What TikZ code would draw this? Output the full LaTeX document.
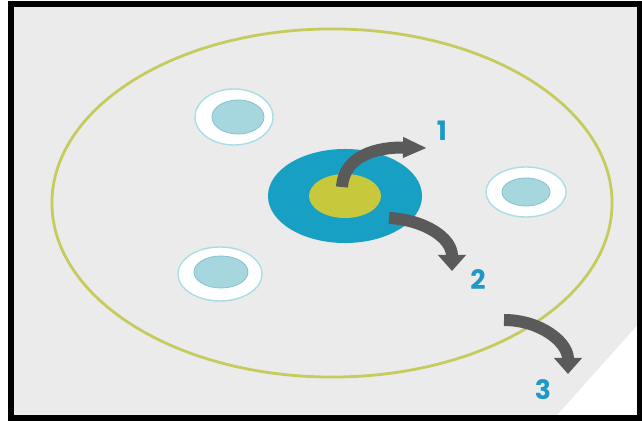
\documentclass[tikz,border=0pt]{standalone}
\usepackage{fontspec}
\usepackage{tikz}
\usetikzlibrary{shapes.geometric,arrows.meta}
\newfontfamily\numfont{Poppins}
\definecolor{paper}{HTML}{EBEBEB}
\definecolor{olive}{HTML}{C6CB5E}
\definecolor{teal}{HTML}{17A0C3}
\definecolor{core}{HTML}{C8C83C}
\definecolor{cellin}{HTML}{A6D6DE}
\definecolor{cellline}{HTML}{86C3CE}
\definecolor{cellring}{HTML}{A8DEE6}
\definecolor{arrowgray}{HTML}{5A5A5A}
\definecolor{numblue}{HTML}{1E98C6}

\begin{document}
\begin{tikzpicture}[x=0.025cm,y=0.025cm,
  disc/.style = {ellipse, inner sep=0pt, outer sep=0pt},
  ring/.style = {disc, fill=white, draw=cellring, line width=1pt},
  cell/.style = {disc, fill=cellin, draw=cellline, line width=0.6pt},
  flow/.style = {arrowgray, line width=0.3cm, -{Triangle[width=0.68cm,length=0.4cm]}},
  num/.style  = {text=numblue, font=\numfont\bfseries\fontsize{19}{19}\selectfont, inner sep=0pt}]
\useasboundingbox (0,0) rectangle (642,420);
\fill[white] (0,0) rectangle (642,420);
\fill[paper] (11,2.5) rectangle (639.5,415.5);
\fill[white] (555,2.5) -- (639.5,97) -- (639.5,2.5) -- cycle;
\draw[line width=0.15cm] (11,2.5) rectangle (639.5,415.5);
% big ellipse and the nucleus
\node[disc, draw=olive, line width=2pt, minimum width=14cm, minimum height=8.7cm](dish) at (332,217) {};
\node[disc, fill=teal, minimum width=3.85cm, minimum height=2.35cm](outer) at (345,224) {};
\node[disc, fill=core, minimum width=1.8cm, minimum height=1.1cm](inner) at (345,224) {};
% small cells
\node[ring, minimum width=1.95cm, minimum height=1.4cm](r1) at (234,303) {}; \node[cell, minimum width=1.3cm, minimum height=0.85cm](c1) at (238,303) {};
\node[ring, minimum width=2.1cm, minimum height=1.35cm](r2) at (220,146) {}; \node[cell, minimum width=1.35cm, minimum height=0.8cm](c2) at (221,148) {};
\node[ring, minimum width=2cm, minimum height=1.25cm](r3) at (526,228) {}; \node[cell, minimum width=1.2cm, minimum height=0.7cm](c3) at (526,228) {};
% arrows and numbers
\coordinate (s1) at (342,233); \coordinate (e1) at (427,272);
\coordinate (s2) at (389,202); \coordinate (e2) at (452,149);
\coordinate (s3) at (504,100); \coordinate (e3) at (568,46);
\draw[flow, -{Triangle[width=0.48cm,length=0.6cm]}] (s1) .. controls (344,265) and (378,273) .. (e1);
\draw[flow] (s2) .. controls (425,200) and (452,182) .. (e2);
\draw[flow] (s3) .. controls (540,100) and (568,78) .. (e3);
\node[num](n1) at (442,289) {1}; \node[num](n2) at (478,140) {2}; \node[num](n3) at (543,30) {3};
\end{tikzpicture}
\end{document}
